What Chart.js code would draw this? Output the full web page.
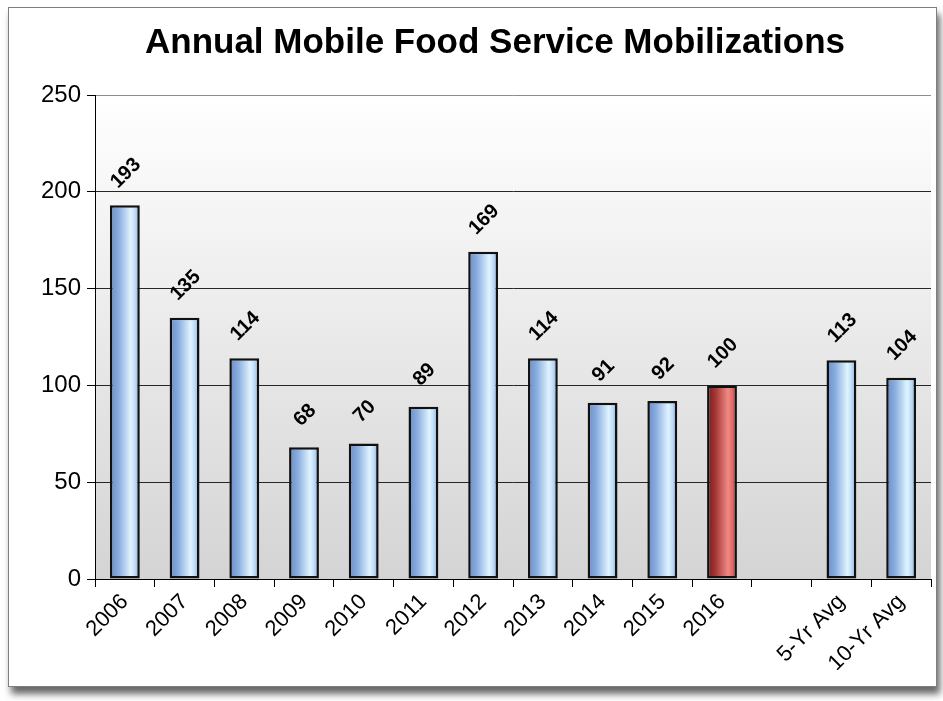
<!DOCTYPE html>
<html>
<head>
<meta charset="utf-8">
<script src="https://cdn.jsdelivr.net/npm/chart.js@4.4.0/dist/chart.umd.min.js"></script>
<style>
  html, body { margin: 0; padding: 0; background: #fff; }
  body { width: 943px; height: 701px; overflow: hidden; position: relative; }
  #frame {
    position: absolute; left: 8px; top: 7px; width: 927px; height: 678px;
    border: 1px solid #7f7f7f; background: #fff;
    box-shadow: 3px 7px 7px rgba(0,0,0,0.6);
  }
  canvas { display: block; }
</style>
</head>
<body>
<div id="frame"><canvas id="mobilizations" width="927" height="678"></canvas></div>
<script>
// data
const categories = ['2006', '2007', '2008', '2009', '2010', '2011', '2012', '2013', '2014', '2015', '2016', '', '5-Yr Avg', '10-Yr Avg'];
const mobilizations = [193, 135, 114, 68, 70, 89, 169, 114, 91, 92, 100, null, 113, 104];
const yTicks = [0, 50, 100, 150, 200, 250];
const currentYear = '2016';
const chartTitle = 'Annual Mobile Food Service Mobilizations';

const FONT = '"Liberation Sans", Arial, sans-serif';

// glossy cylinder look for each bar
function barFill(ctx) {
    const chart = ctx.chart;
    const red = categories[ctx.dataIndex] === currentYear;
    const xs = chart.scales.x;
    if (!xs || !chart.chartArea) return red ? '#c0504d' : '#95b3d7';
    const cx = xs.getPixelForValue(ctx.dataIndex);
    const w = xs.width / categories.length * 0.5;
    const g = chart.ctx.createLinearGradient(cx - w / 2, 0, cx + w / 2, 0);
    if (red) {
        g.addColorStop(0, '#6e1c1c');
        g.addColorStop(0.3, '#a83a38');
        g.addColorStop(0.7, '#f08a85');
        g.addColorStop(0.85, '#e06a66');
        g.addColorStop(1, '#9a2e2c');
    } else {
        g.addColorStop(0, '#6a8bc3');
        g.addColorStop(0.3, '#8aaee0');
        g.addColorStop(0.7, '#e0f4ff');
        g.addColorStop(0.85, '#bcdaf6');
        g.addColorStop(1, '#7fa2d6');
    }
    return g;
}

// plot area background + title + rotated value labels
const decorations = {
    id: 'decorations',
    beforeDraw(chart) {
        const { ctx, chartArea: a } = chart;
        const g = ctx.createLinearGradient(0, a.top, 0, a.bottom);
        g.addColorStop(0, '#ffffff');
        g.addColorStop(1, '#d4d4d4');
        ctx.save();
        ctx.fillStyle = g;
        ctx.fillRect(a.left, a.top, a.right - a.left, a.bottom - a.top);
        ctx.fillStyle = '#000';
        ctx.font = 'bold 35px ' + FONT;
        ctx.textAlign = 'center';
        ctx.textBaseline = 'middle';
        ctx.fillText(chartTitle, 486, 35);
        ctx.restore();
    },
    afterDatasetsDraw(chart) {
        const ctx = chart.ctx;
        const meta = chart.getDatasetMeta(0);
        ctx.save();
        ctx.fillStyle = '#000';
        ctx.font = 'bold 20px ' + FONT;
        ctx.textAlign = 'center';
        ctx.textBaseline = 'middle';
        meta.data.forEach((bar, i) => {
            const v = mobilizations[i];
            if (v === null) return;
            ctx.save();
            ctx.translate(bar.x + 1, bar.y - 32);
            ctx.rotate(-Math.PI / 4);
            ctx.fillText(String(v), 0, 0);
            ctx.restore();
        });
        ctx.restore();
    }
};

new Chart(document.getElementById('mobilizations').getContext('2d'), {
    type: 'bar',
    data: {
        labels: categories,
        datasets: [{
            data: mobilizations,
            backgroundColor: barFill,
            borderColor: '#111',
            borderWidth: 2.5,
            borderSkipped: false,
            barPercentage: 0.5,
            categoryPercentage: 1.0
        }]
    },
    options: {
        responsive: false,
        animation: false,
        layout: { padding: { top: 87, right: 5, left: 0, bottom: 0 } },
        plugins: {
            legend: { display: false },
            tooltip: { enabled: false },
            title: { display: false }
        },
        scales: {
            x: {
                afterFit(scale) { scale.height = 107; },
                grid: {
                    offset: true,
                    drawOnChartArea: false,
                    drawTicks: true,
                    tickLength: 8,
                    tickColor: '#000'
                },
                border: { color: '#000', width: 1 },
                ticks: {
                    color: '#000',
                    font: { family: FONT, size: 22 },
                    minRotation: 45,
                    maxRotation: 45,
                    padding: 2,
                    autoSkip: false
                }
            },
            y: {
                min: 0,
                max: 250,
                afterFit(scale) { scale.width = 86; },
                afterBuildTicks(scale) { scale.ticks = yTicks.map(v => ({ value: v })); },
                grid: {
                    color: ctx => ctx.tick && ctx.tick.value === 250 ? '#8c8c8c' : '#262626',
                    tickLength: 8,
                    tickColor: '#000'
                },
                border: { color: '#000', width: 1 },
                ticks: {
                    color: '#000',
                    font: { family: FONT, size: 24 },
                    padding: 6
                }
            }
        }
    },
    plugins: [decorations]
});
</script>
</body>
</html>
